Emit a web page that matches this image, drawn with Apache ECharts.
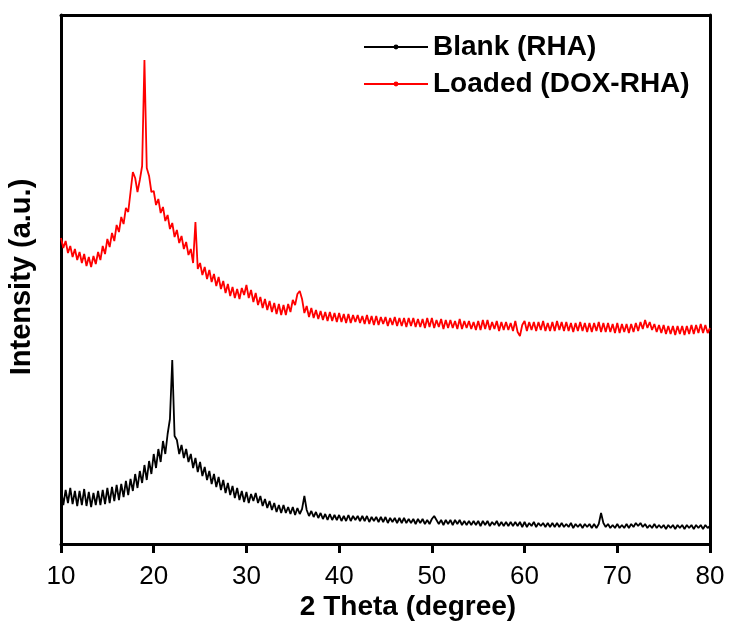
<!DOCTYPE html>
<html>
<head>
<meta charset="utf-8">
<script src="https://cdn.jsdelivr.net/npm/echarts@6/dist/echarts.min.js"></script>
<style>html,body{margin:0;padding:0;background:#fff}#chart{width:730px;height:629px}</style>
</head>
<body>
<div id="chart"></div>
<script>
// 2θ sampling: 10 to 80 degrees, step 0.25
var thetaStart = 10, thetaStep = 0.25;
var xTicks = [10, 20, 30, 40, 50, 60, 70, 80];
var seriesNames = ['Blank (RHA)', 'Loaded (DOX-RHA)'];

// Loaded (DOX-RHA), arbitrary units (offset trace), 4 values per degree
var loaded = [
 306,296,303,291, 298,287,295,284, 292,281,290,278, 287,277,288,280,
 292,284,298,290, 305,297,311,303, 319,312,327,320, 336,332,352,372,
 366,352,364,378, 484,376,368,352, 353,339,345,331, 337,323,329,315,
 321,307,314,301, 308,295,302,289, 295,281,322,275, 281,269,277,265,
 274,262,270,258, 267,255,263,251, 260,248,257,246, 255,245,256,249,
 259,246,254,242, 251,239,247,236, 245,234,243,232, 241,230,240,229,
 239,229,240,232, 244,239,250,253, 245,231,238,227, 236,226,234,225,
 233,224,232,223, 232,223,231,222, 231,222,230,221, 230,221,229,222,
 229,221,228,220, 229,220,228,219, 228,219,227,220, 227,218,226,219,
 227,218,226,218, 226,217,226,218, 226,217,225,217, 225,216,226,217,
 226,216,224,217, 225,215,224,216, 224,216,223,215, 225,215,223,216,
 223,215,222,214, 223,214,224,215, 224,214,222,215, 223,213,222,214,
 222,214,221,213, 223,212,208,219, 223,213,222,214, 222,213,222,214,
 223,213,221,213, 222,213,223,214, 222,213,222,213, 221,212,221,213,
 222,213,221,212, 221,212,221,213, 222,212,221,212, 221,212,220,211,
 221,211,220,212, 220,211,220,212, 221,213,222,215, 224,216,222,214,
 220,212,219,211, 219,210,218,210, 218,209,218,210, 218,209,218,210,
 219,210,219,211, 220,211,219,211, 216
];

// Blank (RHA), arbitrary units, 4 values per degree
var blank = [
 55,39,54,41, 56,40,53,38, 53,39,55,38, 52,37,51,39,
 53,39,54,40, 56,41,57,43, 59,44,60,47, 63,49,65,53,
 70,56,73,61, 79,64,83,70, 90,76,95,82, 103,90,110,125,
 184,108,104,90, 99,86,95,82, 90,76,86,72, 82,68,77,64,
 73,60,70,57, 67,54,64,51, 61,49,58,46, 56,44,53,42,
 52,41,50,43, 51,41,48,38, 45,36,43,34, 41,32,39,31,
 39,31,37,30, 37,29,36,30, 35,48,34,28, 33,27,32,26,
 31,25,30,24, 30,24,29,24, 29,23,28,23, 29,23,28,24,
 28,23,28,23, 28,22,27,23, 27,22,27,22, 27,21,26,22,
 26,21,26,21, 26,21,25,21, 25,20,25,21, 25,20,24,20,
 25,28,24,20, 24,19,24,20, 24,19,24,20, 24,19,23,19,
 23,19,23,19, 23,18,23,19, 23,18,22,19, 23,18,22,18,
 22,18,22,18, 22,18,22,17, 22,17,21,18, 22,17,21,18,
 21,17,21,17, 21,17,21,17, 21,17,20,17, 21,16,20,17,
 20,16,20,17, 20,16,20,16, 20,31,21,17, 20,16,19,16,
 20,16,19,16, 20,16,20,17, 21,18,21,17, 20,16,19,16,
 20,16,19,16, 19,15,19,16, 19,15,19,16, 19,15,19,16,
 19,15,19,16, 19,15,19,16, 18
];

function pairs(arr) {
  return arr.map(function (v, i) { return [thetaStart + i * thetaStep, v]; });
}

var chart = echarts.init(document.getElementById('chart'), null, {renderer: 'canvas'});
var fontFam = 'Liberation Sans, Arial, sans-serif';
chart.setOption({
  animation: false,
  backgroundColor: '#fff',
  grid: {left: 61, right: 20, top: 15, bottom: 85},
  legend: {
    orient: 'vertical',
    left: 358, top: 28,
    itemWidth: 64, itemHeight: 6, itemGap: 9,
    data: seriesNames,
    textStyle: {fontFamily: fontFam, fontWeight: 'bold', fontSize: 28, color: '#000', lineHeight: 26}
  },
  xAxis: [{
    type: 'value', min: 10, max: 80, interval: 10,
    axisLine: {lineStyle: {color: '#000', width: 3}},
    axisTick: {show: true, inside: false, length: 9, lineStyle: {width: 3, color: '#000'}},
    axisLabel: {fontFamily: fontFam, fontSize: 26, color: '#000', margin: 20,
      formatter: function (v) { return xTicks.indexOf(v) >= 0 ? String(v) : ''; }},
    splitLine: {show: false}
  }, {
    type: 'value', position: 'top', min: 10, max: 80,
    axisLine: {show: true, onZero: false, lineStyle: {color: '#000', width: 3}},
    axisTick: {show: false}, axisLabel: {show: false}, splitLine: {show: false}
  }],
  yAxis: [{
    type: 'value', min: 0, max: 529,
    axisLine: {show: true, onZero: false, lineStyle: {color: '#000', width: 3}},
    axisTick: {show: false}, axisLabel: {show: false}, splitLine: {show: false}
  }, {
    type: 'value', position: 'right', min: 0, max: 529,
    axisLine: {show: true, onZero: false, lineStyle: {color: '#000', width: 3}},
    axisTick: {show: false}, axisLabel: {show: false}, splitLine: {show: false}
  }],
  graphic: [
    {type: 'text', x: 408, y: 607, style: {text: '2 Theta (degree)', align: 'center', verticalAlign: 'middle',
      font: 'bold 28px ' + fontFam, fill: '#000'}},
    {type: 'text', x: 22, y: 277, rotation: Math.PI / 2, style: {text: 'Intensity (a.u.)', align: 'center', verticalAlign: 'middle',
      font: 'bold 29px ' + fontFam, fill: '#000'}}
  ],
  series: [{
    name: seriesNames[0], type: 'line', data: pairs(blank),
    showSymbol: false, symbol: 'circle', symbolSize: 4,
    lineStyle: {color: '#000', width: 1.8}, itemStyle: {color: '#000'}
  }, {
    name: seriesNames[1], type: 'line', data: pairs(loaded),
    showSymbol: false, symbol: 'circle', symbolSize: 4,
    lineStyle: {color: '#ff0000', width: 1.8}, itemStyle: {color: '#ff0000'}
  }]
});
</script>
</body>
</html>
